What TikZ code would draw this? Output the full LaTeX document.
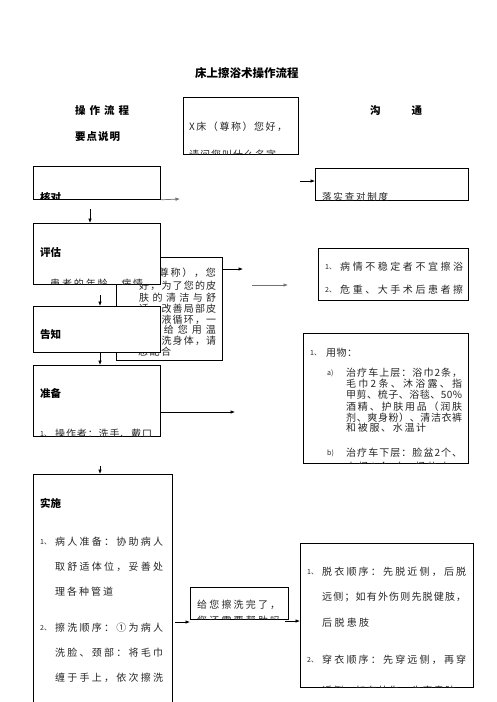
\documentclass[tikz,border=0pt]{standalone}
\usepackage{fontspec}
\usetikzlibrary{arrows.meta}
\newfontfamily\cjk{Noto Sans CJK SC}
\makeatletter
\newcommand\sline[2]{\hbox to #1{\@tfor\sl@x:=#2\do{\sl@x\hfil}\unskip}}
\makeatother
\tikzset{
  box/.style={draw, line width=0.8pt, fill=white, inner sep=0pt, anchor=north west},
  arr/.style={-{Latex[length=4.5pt,width=3.6pt]}, line width=0.7pt},
  garr/.style={arr, draw=black!55, fill=black!55},
  body/.style={font=\cjk\fontsize{10}{12}\selectfont, text=black!85, inner sep=0pt, anchor=west},
  bodye/.style={body, anchor=east},
  lab/.style={font=\cjk\bfseries\fontsize{10.5}{12}\selectfont, inner sep=0pt, anchor=west},
  num/.style={font=\cjk\fontsize{7}{8}\selectfont, text=black!85, inner sep=0pt, anchor=west},
}
\begin{document}
\begin{tikzpicture}[x=1pt,y=-1pt]
\useasboundingbox (0,0) rectangle (496,702);
% header
\node[font=\cjk\bfseries\fontsize{11.5}{13}\selectfont, inner sep=0pt, anchor=west] (title) at (195,73) {床上擦浴术操作流程};
\node[lab] (h1) at (75,111) {\sline{54pt}{操作流程}};
\node[lab] (h2) at (75,137) {\sline{45pt}{要点说明}};
\node[lab] (h3) at (370,111) {\sline{52pt}{沟通}};
% top center box
\node[box, minimum width=115pt, minimum height=57pt] (greet) at (183,97) {};
\begin{scope}
\clip (greet.north west) rectangle (greet.south east);
\node[body] (g1) at (189,127) {\sline{98pt}{X床（尊称）您好，}};
\node[body] (g2) at (189,155) {\sline{98pt}{请问您叫什么名字。}};
\end{scope}
% communication box (behind the left boxes)
\node[box, minimum width=106pt, minimum height=103pt] (comm) at (116,257) {};
\begin{scope}
\clip (comm.north west) rectangle (comm.south east);
\node[bodye] (m1) at (216,273) {\sline{88pt}{X床（尊称），您}};
\node[body] (m2) at (139,286) {\sline{77pt}{好，为了您的皮}};
\node[body] (m3) at (139,298) {\sline{77pt}{肤的清洁与舒}};
\node[body] (m4) at (139,309) {\sline{77pt}{适，改善局部皮}};
\node[body] (m5) at (139,320) {\sline{77pt}{肤血液循环，一}};
\node[bodye] (m6) at (216,330) {\sline{66pt}{会给您用温}};
\node[body] (m7) at (139,341) {\sline{77pt}{水擦洗身体，请}};
\node[body] (m8) at (138,352) {\sline{33pt}{您配合}};
\end{scope}
% left column
\node[box, minimum width=127pt, minimum height=33pt] (hedui) at (33,166) {};
\begin{scope}
\clip (hedui.north west) rectangle (hedui.south east);
\node[lab] (t1) at (40,197) {核对};
\end{scope}
\node[box, minimum width=127pt, minimum height=61pt] (pinggu) at (33,223) {};
\begin{scope}
\clip (pinggu.north west) rectangle (pinggu.south east);
\node[lab] (t2) at (40,252) {评估};
\node[body] (t2a) at (50,284) {\sline{93pt}{患者的年龄、病情}};
\end{scope}
\node[box, minimum width=127pt, minimum height=46pt] (gaozhi) at (33,306) {};
\node[lab] (t3) at (40,334) {告知};
\node[box, minimum width=127pt, minimum height=71pt] (zhunbei) at (33,365) {};
\begin{scope}
\clip (zhunbei.north west) rectangle (zhunbei.south east);
\node[lab] (t4) at (40,393) {准备};
\node[num] (t4n) at (40,434) {1、};
\node[body] (t4a) at (55,434) {\sline{97pt}{操作者：洗手、戴口}};
\end{scope}
\node[box, minimum width=139pt, minimum height=240pt] (shishi) at (33,474) {};
\node[lab] (t5) at (40,503) {实施};
\node[num] (t5n1) at (40,542) {1、};
\node[body] (t5a) at (55,542) {\sline{108pt}{病人准备：协助病人}};
\node[body] (t5b) at (55,567) {\sline{108pt}{取舒适体位，妥善处}};
\node[body] (t5c) at (55,592) {\sline{58pt}{理各种管道}};
\node[num] (t5n2) at (40,628) {2、};
\node[body] (t5d) at (55,628) {\sline{108pt}{擦洗顺序：①为病人}};
\node[body] (t5e) at (55,653) {\sline{108pt}{洗脸、颈部：将毛巾}};
\node[body] (t5f) at (55,678) {\sline{108pt}{缠于手上，依次擦洗}};
% small box
\node[box, minimum width=98pt, minimum height=32pt] (done) at (190,587) {};
\begin{scope}
\clip (done.north west) rectangle (done.south east);
\node[body] (d1) at (197,605) {\sline{83pt}{给您擦洗完了，}};
\node[body] (d2) at (197,621) {\sline{83pt}{您还需要帮助吗}};
\end{scope}
% right column
\node[box, minimum width=153pt, minimum height=32pt] (r1) at (315,168) {};
\begin{scope}
\clip (r1.north west) rectangle (r1.south east);
\node[body, font=\cjk\fontsize{9.5}{11}\selectfont] (r1a) at (322,197) {\sline{66pt}{落实查对制度}};
\end{scope}
\node[box, minimum width=150pt, minimum height=52pt] (r2) at (318,248) {};
\begin{scope}
\clip (r2.north west) rectangle (r2.south east);
\node[num] (r2n1) at (325,267) {1、};
\node[body] (r2a) at (340,267) {\sline{123pt}{病情不稳定者不宜擦浴}};
\node[num] (r2n2) at (325,290) {2、};
\node[body] (r2b) at (340,290) {\sline{123pt}{危重、大手术后患者擦}};
\end{scope}
\node[box, minimum width=165pt, minimum height=130pt] (r3) at (303,333) {};
\begin{scope}
\clip (r3.north west) rectangle (r3.south east);
\node[num] (r3n) at (310,353) {1、};
\node[body] (r3h) at (326,353) {\sline{31pt}{用物：}};
\node[num] (r3na) at (327,373) {a)};
\node[body] (r3a) at (346,373) {\sline{116pt}{治疗车上层：浴巾2条，}};
\node[body] (r3b) at (346,384) {\sline{116pt}{毛巾2条、沐浴露、指}};
\node[body] (r3c) at (346,395) {\sline{116pt}{甲剪、梳子、浴毯、50\%}};
\node[body] (r3d) at (346,407) {\sline{116pt}{酒精、护肤用品（润肤}};
\node[body] (r3e) at (346,418) {\sline{116pt}{剂、爽身粉）、清洁衣裤}};
\node[body] (r3f) at (346,428) {\sline{80pt}{和被服、水温计}};
\node[num] (r3nb) at (327,453) {b)};
\node[body] (r3g) at (346,453) {\sline{116pt}{治疗车下层：脸盆2个、}};
\node[body] (r3h2) at (346,467) {\sline{116pt}{水桶2个（一桶热水、}};
\end{scope}
\node[box, minimum width=173pt, minimum height=144pt] (r4) at (300,543) {};
\begin{scope}
\clip (r4.north west) rectangle (r4.south east);
\node[num] (r4n1) at (307,572) {1、};
\node[body] (r4a) at (322,572) {\sline{144pt}{脱衣顺序：先脱近侧，后脱}};
\node[body] (r4b) at (322,597) {\sline{144pt}{远侧；如有外伤则先脱健肢，}};
\node[body] (r4c) at (322,623) {\sline{47pt}{后脱患肢}};
\node[num] (r4n2) at (307,660) {2、};
\node[body] (r4d) at (322,660) {\sline{144pt}{穿衣顺序：先穿远侧，再穿}};
\node[body] (r4e) at (322,691) {\sline{144pt}{近侧；如有外伤，先穿患肢，}};
\end{scope}
% connectors
\coordinate (c1) at (180,199);
\coordinate (c2) at (300,181);
\coordinate (c3) at (90,209);
\coordinate (c4) at (243,269);
\coordinate (c5a) at (252,285);
\coordinate (c5b) at (288,285);
\coordinate (c6) at (100,295);
\coordinate (c7) at (100,352);
\coordinate (c8) at (235,412);
\coordinate (c9) at (100,466);
\coordinate (c10) at (175,622);
\coordinate (c11) at (285,621);
\draw[garr] (hedui.south east) -- (c1);
\draw[arr] (c2) -- (c2 -| r1.west);
\draw[arr] (c3) -- (c3 |- pinggu.north);
\draw[arr] (c4 -| comm.east) -- (c4);
\draw[garr] (c5a) -- (c5b);
\draw[arr] (c6) -- (c6 |- gaozhi.north);
\draw[arr] (c7) -- (c7 |- zhunbei.north);
\draw[arr] (c8 -| zhunbei.east) -- (c8);
\draw[arr] (c9) -- (c9 |- shishi.north);
\draw[arr] (c10) -- (c10 -| done.west);
\draw[arr] (c11) -- (c11 -| r4.west);
\end{tikzpicture}
\end{document}
